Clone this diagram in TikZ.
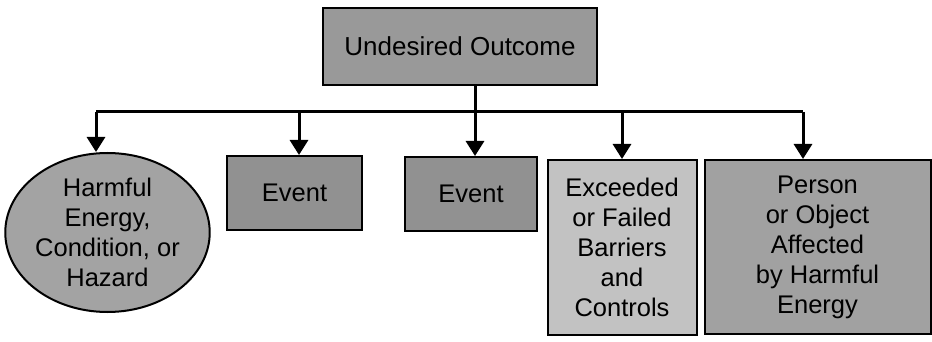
\documentclass[tikz,border=0pt]{standalone}
\usepackage{fontspec}
\setmainfont{Liberation Sans}
\usetikzlibrary{arrows.meta,shapes.geometric}
\begin{document}
\begin{tikzpicture}[x=1pt,y=-1pt,
  boxstyle/.style={draw=black,line width=2pt,rectangle,inner sep=0pt,align=center,
    font=\fontsize{25.5}{30}\selectfont},
  ovalstyle/.style={draw=black,line width=2pt,ellipse,inner sep=0pt,align=center,
    font=\fontsize{25.5}{30}\selectfont},
  conn/.style={line width=3pt},
  arr/.style={line width=3pt,-{Triangle[width=18pt,length=15pt]}}]
\useasboundingbox (0,0) rectangle (932,342);
\node[boxstyle,fill=black!40,minimum width=274pt,minimum height=77pt,font=\fontsize{26}{30}\selectfont] (top) at (460,46.5) {Undesired Outcome};
\node[ovalstyle,fill=black!36,minimum width=189pt,minimum height=159pt] (haz) at (107.5,232.5) {Harmful\\Energy,\\Condition, or\\Hazard};
\node[boxstyle,fill=black!43,minimum width=135pt,minimum height=74pt] (ev1) at (294.5,193) {Event};
\node[boxstyle,fill=black!43,minimum width=132pt,minimum height=74pt] (ev2) at (471,194) {Event};
\node[boxstyle,fill=black!24,minimum width=149pt,minimum height=175pt] (exc) at (622,247.5) {Exceeded\\or Failed\\Barriers\\and\\Controls};
\node[boxstyle,fill=black!37,minimum width=226pt,minimum height=174pt] (per) at (817.5,247) {Person\\or Object\\Affected\\by Harmful\\Energy};
\coordinate (j) at (475,112);
\coordinate (b1) at (96,112);
\coordinate (b2) at (299,112);
\coordinate (b4) at (622,112);
\coordinate (b5) at (803,112);
\draw[conn] (top.south -| j) -- (j);
\draw[conn] (b1) -- (b5);
\draw[arr] (b1) -- (b1 |- haz.north);
\draw[arr] (b2) -- (b2 |- ev1.north);
\draw[arr] (j) -- (j |- ev2.north);
\draw[arr] (b4) -- (b4 |- exc.north);
\draw[arr] (b5) -- (b5 |- per.north);
\end{tikzpicture}
\end{document}
